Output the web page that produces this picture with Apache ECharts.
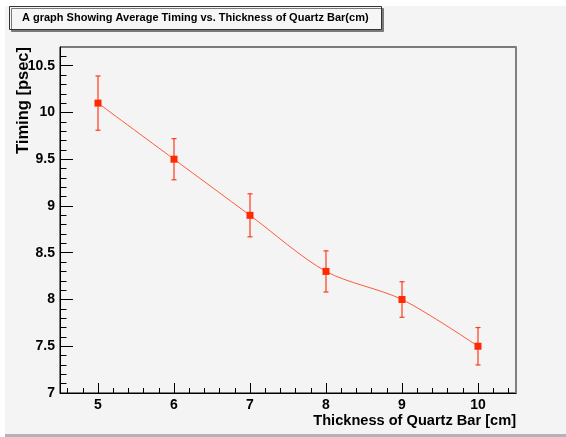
<!DOCTYPE html>
<html>
<head>
<meta charset="utf-8">
<script src="https://cdn.jsdelivr.net/npm/echarts@6/dist/echarts.min.js"></script>
<style>
html,body{margin:0;padding:0;background:#ffffff;}
#chart{width:566px;height:437px;}
</style>
</head>
<body>
<div id="chart"></div>
<script>
// ---- data ----
const titleText = 'A graph Showing Average Timing vs. Thickness of Quartz Bar(cm)';
const xAxisTitle = 'Thickness of Quartz Bar [cm]';
const yAxisTitle = 'Timing [psec]';
const thickness = [5, 6, 7, 8, 9, 10];
const timing = [10.1, 9.5, 8.9, 8.3, 8.0, 7.5];
const timingErr = [0.29, 0.22, 0.23, 0.22, 0.19, 0.2];
const xMajorTicks = [5, 6, 7, 8, 9, 10];
const xMinorTicks = [4.6, 4.8, 5.2, 5.4, 5.6, 5.8, 6.2, 6.4, 6.6, 6.8, 7.2, 7.4, 7.6, 7.8,
                     8.2, 8.4, 8.6, 8.8, 9.2, 9.4, 9.6, 9.8, 10.2, 10.4];
const yMajorTicks = [7, 7.5, 8, 8.5, 9, 9.5, 10, 10.5];
const yMinorTicks = [7.1, 7.2, 7.3, 7.4, 7.6, 7.7, 7.8, 7.9, 8.1, 8.2, 8.3, 8.4, 8.6, 8.7, 8.8, 8.9,
                     9.1, 9.2, 9.3, 9.4, 9.6, 9.7, 9.8, 9.9, 10.1, 10.2, 10.3, 10.4, 10.6];
const xRange = [4.5, 10.5];
const yRange = [7, 10.7];

// ---- derived ----
const points = thickness.map((x, i) => [x, timing[i]]);
const errBars = thickness.map((x, i) => [x, timing[i] - timingErr[i], timing[i] + timingErr[i]]);

const FONT = '"Liberation Sans", Arial, Helvetica, sans-serif';
const chart = echarts.init(document.getElementById('chart'), null, {renderer: 'canvas'});

const hiddenAxisBits = {
  axisLine: {show: false},
  axisLabel: {show: false},
  splitLine: {show: false}
};

const option = {
  animation: false,
  backgroundColor: '#ffffff',
  graphic: [
    {type: 'rect', z: -10, silent: true, shape: {x: 5, y: 6, width: 561, height: 428}, style: {fill: '#f4f4f4'}},
    {type: 'rect', z: -10, silent: true, shape: {x: 5, y: 434, width: 561, height: 3}, style: {fill: '#b4b4b4'}}
  ],
  title: {
    text: titleText,
    left: 9,
    top: 6,
    padding: [5, 13, 5, 13],
    backgroundColor: '#f6f6f6',
    borderColor: '#333333',
    borderWidth: 1,
    shadowColor: '#7a7a7a',
    shadowOffsetX: 2,
    shadowOffsetY: 2,
    shadowBlur: 0,
    textStyle: {
      fontFamily: FONT,
      fontWeight: 'bold',
      fontSize: 11,
      lineHeight: 14,
      color: '#000000'
    }
  },
  grid: {
    left: 60,
    right: 50,
    top: 47,
    bottom: 44,
    show: true,
    borderColor: '#000000',
    borderWidth: 1,
    backgroundColor: 'transparent'
  },
  xAxis: [
    {
      type: 'value',
      min: xRange[0],
      max: xRange[1],
      position: 'bottom',
      name: xAxisTitle,
      nameLocation: 'end',
      nameGap: 0,
      nameMoveOverlap: false,
      nameTextStyle: {
        fontFamily: FONT, fontWeight: 'bold', fontSize: 14.6, color: '#000000',
        align: 'right', verticalAlign: 'top', padding: [20, 0, 0, 0]
      },
      axisLine: {show: true, lineStyle: {color: '#000000', width: 1}},
      axisTick: {show: true, inside: true, length: 10, customValues: xMajorTicks, lineStyle: {color: '#000000', width: 1}},
      axisLabel: {show: true, customValues: xMajorTicks, margin: 5, fontFamily: FONT, fontWeight: 'bold', fontSize: 14, color: '#000000'},
      splitLine: {show: false}
    },
    Object.assign({
      type: 'value',
      min: xRange[0],
      max: xRange[1],
      position: 'bottom',
      axisTick: {show: true, inside: true, length: 5, customValues: xMinorTicks, lineStyle: {color: '#000000', width: 1}}
    }, hiddenAxisBits)
  ],
  yAxis: [
    {
      type: 'value',
      min: yRange[0],
      max: yRange[1],
      position: 'left',
      name: yAxisTitle,
      nameLocation: 'end',
      nameGap: 0,
      nameRotate: 90,
      nameMoveOverlap: false,
      nameTextStyle: {
        fontFamily: FONT, fontWeight: 'bold', fontSize: 16.5, color: '#000000',
        align: 'right', verticalAlign: 'bottom', padding: [0, 0, 28, 0]
      },
      axisLine: {show: true, lineStyle: {color: '#000000', width: 1}},
      axisTick: {show: true, inside: true, length: 13, customValues: yMajorTicks, lineStyle: {color: '#000000', width: 1}},
      axisLabel: {show: true, customValues: yMajorTicks, margin: 5, fontFamily: FONT, fontWeight: 'bold', fontSize: 14, color: '#000000'},
      splitLine: {show: false}
    },
    Object.assign({
      type: 'value',
      min: yRange[0],
      max: yRange[1],
      position: 'left',
      axisTick: {show: true, inside: true, length: 6.5, customValues: yMinorTicks, lineStyle: {color: '#000000', width: 1}}
    }, hiddenAxisBits),
    {
      type: 'value',
      min: yRange[0],
      max: yRange[1],
      position: 'right',
      axisLine: {show: true, lineStyle: {color: '#808080', width: 2}},
      axisTick: {show: false},
      axisLabel: {show: false},
      splitLine: {show: false}
    }
  ],
  series: [
    {
      type: 'custom',
      name: 'error',
      xAxisIndex: 0,
      yAxisIndex: 0,
      data: errBars,
      z: 3,
      renderItem: function (params, api) {
        const x = api.value(0);
        const lo = api.coord([x, api.value(1)]);
        const hi = api.coord([x, api.value(2)]);
        const cap = 2.5;
        const st = {stroke: '#ff3a1a', lineWidth: 1.2};
        return {
          type: 'group',
          children: [
            {type: 'line', shape: {x1: lo[0], y1: lo[1], x2: hi[0], y2: hi[1]}, style: st},
            {type: 'line', shape: {x1: lo[0] - cap, y1: lo[1], x2: lo[0] + cap, y2: lo[1]}, style: st},
            {type: 'line', shape: {x1: hi[0] - cap, y1: hi[1], x2: hi[0] + cap, y2: hi[1]}, style: st}
          ]
        };
      }
    },
    {
      type: 'line',
      name: 'Timing',
      xAxisIndex: 0,
      yAxisIndex: 0,
      data: points,
      smooth: 0.3,
      z: 4,
      symbol: 'rect',
      symbolSize: 7,
      lineStyle: {color: '#ff5a3c', width: 1},
      itemStyle: {color: '#ff2a00', borderWidth: 0}
    }
  ]
};
chart.setOption(option);
</script>
</body>
</html>
